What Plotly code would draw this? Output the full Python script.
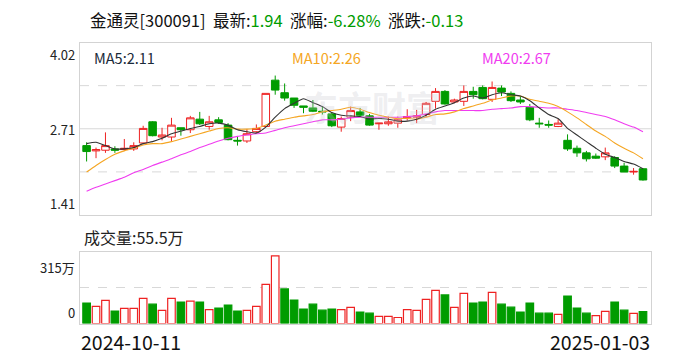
import plotly.graph_objects as go

# ---- data ----
opens = [2.46, 2.38, 2.39, 2.41, 2.40, 2.41, 2.50, 2.82, 2.59, 2.59,
         2.73, 2.70, 2.86, 2.75, 2.85, 2.77, 2.54, 2.53, 2.67, 2.75,
         3.45, 3.26, 3.18, 3.06, 3.03, 2.98, 2.94, 2.74, 2.89, 2.97,
         2.91, 2.79, 2.79, 2.80, 2.88, 2.89, 2.93, 3.13, 3.28, 3.12,
         3.13, 3.28, 3.34, 3.16, 3.33, 3.25, 3.15, 3.04, 2.80, 2.78,
         2.75, 2.54, 2.42, 2.35, 2.30, 2.29, 2.28, 2.15, 2.06, 2.11]
highs = [2.51, 2.43, 2.66, 2.45, 2.56, 2.51, 2.76, 2.83, 2.73, 2.88,
         2.73, 2.91, 2.97, 2.91, 2.89, 2.80, 2.60, 2.71, 2.78, 3.25,
         3.52, 3.40, 3.18, 3.06, 3.15, 3.05, 2.96, 2.90, 3.05, 3.03,
         2.94, 2.80, 2.90, 2.90, 3.01, 3.00, 3.12, 3.33, 3.30, 3.17,
         3.37, 3.35, 3.37, 3.43, 3.37, 3.28, 3.21, 3.09, 2.88, 2.84,
         2.86, 2.63, 2.46, 2.38, 2.34, 2.43, 2.30, 2.20, 2.12, 2.12]
lows = [2.22, 2.27, 2.35, 2.35, 2.38, 2.38, 2.49, 2.60, 2.54, 2.53,
        2.61, 2.65, 2.77, 2.70, 2.79, 2.54, 2.46, 2.50, 2.64, 2.74,
        3.23, 3.14, 3.03, 2.95, 2.97, 2.93, 2.74, 2.67, 2.83, 2.90,
        2.76, 2.70, 2.76, 2.73, 2.84, 2.80, 2.89, 3.02, 3.08, 3.10,
        3.06, 3.17, 3.16, 3.12, 3.21, 3.12, 3.09, 2.83, 2.73, 2.73,
        2.74, 2.38, 2.29, 2.22, 2.26, 2.24, 2.12, 2.06, 2.02, 1.93]
closes = [2.37, 2.40, 2.46, 2.39, 2.42, 2.46, 2.72, 2.61, 2.62, 2.77,
          2.70, 2.88, 2.79, 2.82, 2.81, 2.55, 2.53, 2.64, 2.72, 3.25,
          3.30, 3.18, 3.07, 3.04, 2.98, 2.97, 2.76, 2.87, 2.99, 2.92,
          2.77, 2.80, 2.82, 2.85, 2.90, 2.91, 3.10, 3.28, 3.09, 3.15,
          3.28, 3.23, 3.17, 3.34, 3.27, 3.14, 3.12, 2.85, 2.79, 2.77,
          2.80, 2.41, 2.35, 2.26, 2.27, 2.35, 2.15, 2.06, 2.07, 1.94]
volumes = [95, 80, 108, 58, 70, 70, 117, 90, 61, 117,
           100, 104, 100, 65, 72, 86, 58, 61, 80, 182,
           315, 161, 109, 67, 90, 62, 67, 65, 75, 53,
           48, 33, 33, 28, 65, 61, 112, 154, 133, 75,
           140, 95, 100, 145, 90, 76, 53, 95, 48, 48,
           42, 128, 72, 48, 37, 56, 100, 62, 47, 55.5]  # 万
ma5 = [2.49, 2.51, 2.46, 2.41, 2.41, 2.43, 2.49, 2.52, 2.57, 2.64,
       2.68, 2.72, 2.75, 2.79, 2.80, 2.77, 2.70, 2.67, 2.65, 2.74,
       2.89, 3.02, 3.10, 3.17, 3.11, 3.05, 2.96, 2.92, 2.91, 2.90,
       2.86, 2.87, 2.86, 2.83, 2.83, 2.86, 2.92, 3.01, 3.06, 3.11,
       3.18, 3.21, 3.18, 3.23, 3.26, 3.23, 3.21, 3.14, 3.03, 2.93,
       2.87, 2.72, 2.62, 2.52, 2.42, 2.33, 2.28, 2.22, 2.18, 2.11]
ma10 = [2.06, 2.16, 2.25, 2.33, 2.38, 2.42, 2.47, 2.49, 2.49, 2.52,
        2.56, 2.60, 2.64, 2.68, 2.72, 2.73, 2.71, 2.71, 2.72, 2.77,
        2.83, 2.86, 2.89, 2.91, 2.93, 2.97, 2.99, 3.01, 3.04, 3.01,
        2.96, 2.92, 2.89, 2.87, 2.87, 2.86, 2.89, 2.93, 2.94, 2.97,
        3.02, 3.06, 3.10, 3.15, 3.18, 3.21, 3.21, 3.16, 3.13, 3.10,
        3.05, 2.97, 2.88, 2.78, 2.68, 2.60, 2.50, 2.42, 2.35, 2.26]
ma20 = [1.77, 1.83, 1.88, 1.93, 1.98, 2.05, 2.10, 2.16, 2.21, 2.26,
        2.32, 2.37, 2.43, 2.48, 2.53, 2.57, 2.60, 2.62, 2.64, 2.65,
        2.69, 2.73, 2.76, 2.79, 2.82, 2.85, 2.85, 2.86, 2.88, 2.89,
        2.89, 2.89, 2.89, 2.89, 2.90, 2.91, 2.94, 2.97, 2.99, 2.99,
        2.99, 2.99, 2.99, 3.01, 3.02, 3.03, 3.05, 3.05, 3.04, 3.03,
        3.03, 3.01, 2.99, 2.96, 2.93, 2.90, 2.85, 2.79, 2.74, 2.67]
date_labels = ["2024-10-11", "2025-01-03"]
price_ticks = [4.02, 2.71, 1.41]
vol_ticks = [315, 0]
vol_tick_text = ["315万", "0"]
stock_name = "金通灵[300091]"
latest, pct, chg = "1.94", "-6.28%", "-0.13"
vol_latest = "55.5万"

RED = "#ee2222"
GREEN = "#009c00"
FONT = "Microsoft YaHei, Noto Sans CJK SC, sans-serif"

n = len(closes)
xs = list(range(n))
pmin, pmax = 1.41, 4.02
vmax = 335

# volume colour: close vs previous close
vol_up = [closes[0] >= opens[0]] + [closes[i] >= closes[i - 1] for i in range(1, n)]

fig = go.Figure()

fig.add_trace(go.Candlestick(
    x=xs, open=opens, high=highs, low=lows, close=closes,
    increasing=dict(line=dict(color=RED, width=1), fillcolor="white"),
    decreasing=dict(line=dict(color=GREEN, width=1), fillcolor=GREEN),
    whiskerwidth=0, xaxis="x", yaxis="y", showlegend=False, hoverinfo="skip"))

for vals, col in [(ma20, "#f03cf0"), (ma10, "#f5a623"), (ma5, "#333333")]:
    fig.add_trace(go.Scatter(x=xs, y=vals, mode="lines",
                             line=dict(color=col, width=1.1, shape="spline", smoothing=0.6),
                             xaxis="x", yaxis="y", showlegend=False, hoverinfo="skip"))

fig.add_trace(go.Bar(
    x=xs, y=volumes, width=0.8,
    marker=dict(color=["white" if u else GREEN for u in vol_up],
                line=dict(color=[RED if u else GREEN for u in vol_up], width=1.2)),
    xaxis="x2", yaxis="y2", showlegend=False, hoverinfo="skip"))

xr = [-0.7, n - 1 + 0.85]
dom_x = [80 / 688, 651 / 688]
ax_common = dict(showgrid=False, zeroline=False, showticklabels=False, ticks="",
                 showline=True, mirror=True, linecolor="#d3d3d3", linewidth=1,
                 fixedrange=True)
fig.update_layout(
    width=688, height=360, margin=dict(l=0, r=0, t=0, b=0),
    paper_bgcolor="white", plot_bgcolor="white",
    font=dict(family=FONT, color="#222"),
    xaxis=dict(domain=dom_x, range=xr, anchor="y", rangeslider=dict(visible=False), **ax_common),
    yaxis=dict(domain=[(360 - 215) / 360, (360 - 42.5) / 360], range=[pmin, pmax], anchor="x", **ax_common),
    xaxis2=dict(domain=dom_x, range=xr, anchor="y2", **ax_common),
    yaxis2=dict(domain=[(360 - 323.5) / 360, (360 - 251.5) / 360], range=[0, vmax], anchor="x2", **ax_common),
    bargap=0.15, boxgap=0.2, boxgroupgap=0,
)

# grid lines
q1 = pmin + (pmax - pmin) * 0.25
q3 = pmin + (pmax - pmin) * 0.75
mid = (pmin + pmax) / 2
shapes = []
for yv, dash in [(q1, "dash"), (q3, "dash"), (mid, "solid")]:
    shapes.append(dict(type="line", xref="x domain", yref="y", x0=0, x1=1, y0=yv, y1=yv,
                       line=dict(color="#d8d8d8", width=1, dash=dash), layer="below"))
shapes.append(dict(type="line", xref="x2 domain", yref="y2", x0=0, x1=1, y0=vmax / 2, y1=vmax / 2,
                   line=dict(color="#d8d8d8", width=1, dash="dash"), layer="below"))
fig.update_layout(shapes=shapes)

ann = []
# title
ann.append(dict(xref="paper", yref="paper", x=88 / 688, y=1 - 20 / 360, xanchor="left", yanchor="middle",
                showarrow=False, font=dict(size=16.5, color="#111", family=FONT),
                text=(f"{stock_name}&nbsp;&nbsp;最新:<span style='color:{GREEN}'>{latest}</span>"
                      f"&nbsp;&nbsp;涨幅:<span style='color:{GREEN}'>{pct}</span>"
                      f"&nbsp;&nbsp;涨跌:<span style='color:{GREEN}'>{chg}</span>")))
# MA legends
for xp, txt, col in [(92, f"MA5:{ma5[-1]:.2f}", "#1a2a3a"), (290, f"MA10:{ma10[-1]:.2f}", "#f5a623"),
                     (480, f"MA20:{ma20[-1]:.2f}", "#f03cf0")]:
    ann.append(dict(xref="paper", yref="paper", x=xp / 688, y=1 - 58 / 360, xanchor="left", yanchor="middle",
                    showarrow=False, text=txt, font=dict(size=14.5, color=col, family=FONT)))
# price axis labels
for v, ya in zip(price_ticks, ["top", "middle", "bottom"]):
    ann.append(dict(xref="paper", yref="y", x=77 / 688, y=v, xanchor="right", yanchor=ya,
                    showarrow=False, text=f"{v:.2f}", font=dict(size=13, color="#222", family=FONT)))
# volume labels
ann.append(dict(xref="paper", yref="paper", x=82 / 688, y=1 - 237 / 360, xanchor="left", yanchor="middle",
                showarrow=False, text=f"成交量:{vol_latest}", font=dict(size=16, color="#222", family=FONT)))
for v, t, ya in zip(vol_ticks, vol_tick_text, ["top", "bottom"]):
    ann.append(dict(xref="paper", yref="y2", x=77 / 688, y=v, xanchor="right", yanchor=ya,
                    showarrow=False, text=t, font=dict(size=13, color="#222", family=FONT)))
# dates
ann.append(dict(xref="paper", yref="paper", x=79 / 688, y=1 - 341 / 360, xanchor="left", yanchor="middle",
                showarrow=False, text=date_labels[0], font=dict(size=19.5, color="#111", family=FONT)))
ann.append(dict(xref="paper", yref="paper", x=652 / 688, y=1 - 341 / 360, xanchor="right", yanchor="middle",
                showarrow=False, text=date_labels[1], font=dict(size=19.5, color="#111", family=FONT)))
# watermark
ann.append(dict(xref="paper", yref="paper", x=372 / 688, y=1 - 106 / 360, xanchor="center", yanchor="middle",
                showarrow=False, text="<b>东方财富</b>", font=dict(size=34, color="rgba(200,200,208,0.30)", family=FONT)))
fig.update_layout(annotations=ann)

fig.write_html("out.html", config={"displayModeBar": False},
               post_script="document.body.style.margin='0';document.body.style.overflow='hidden';")
